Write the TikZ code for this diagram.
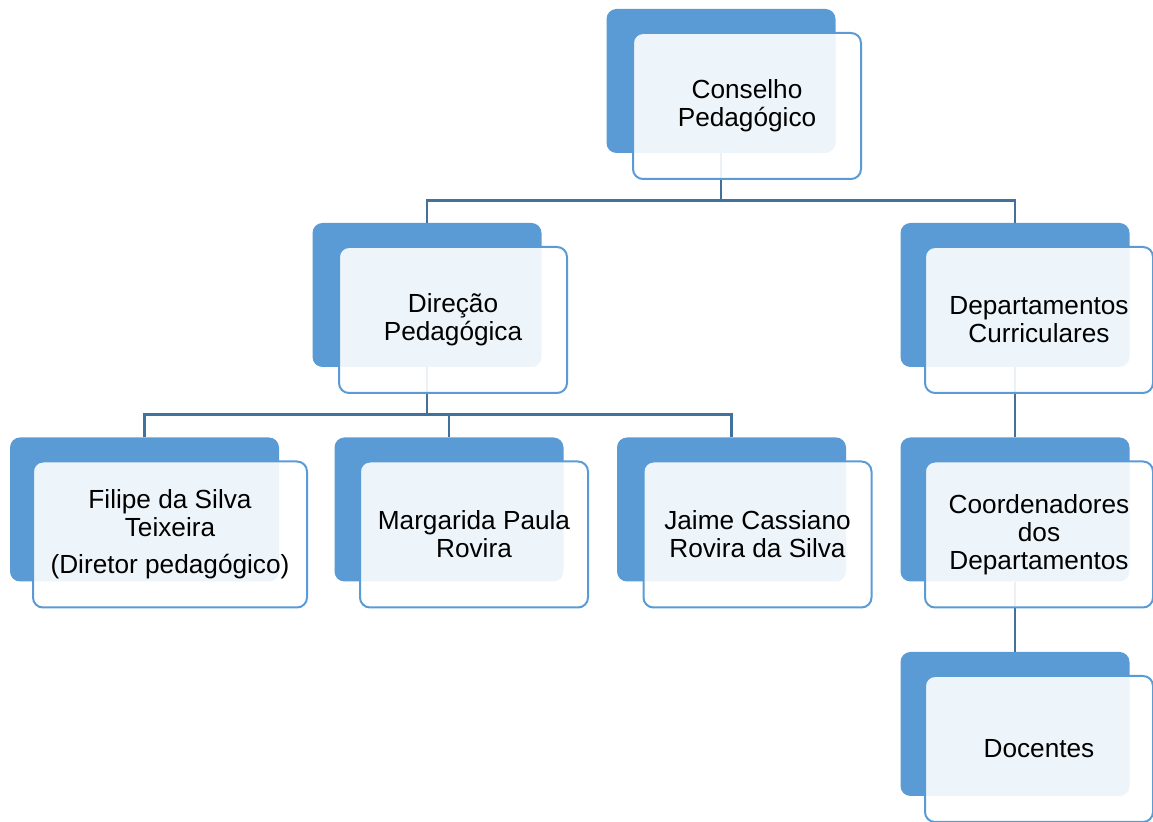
\documentclass[tikz,border=0pt]{standalone}
\usepackage{fontspec}
\setmainfont{Liberation Sans}
\usepackage{tikz}
\usetikzlibrary{positioning}
\definecolor{boxblue}{HTML}{5B9BD5}
\definecolor{linkblue}{HTML}{41719C}

\tikzset{
  back/.style={draw=none, rectangle, rounded corners=5pt, fill=boxblue,
    minimum width=114.5pt, minimum height=72pt, inner sep=0pt},
  front/.style={draw=boxblue, line width=1pt, rectangle, rounded corners=5pt,
    fill=white, fill opacity=0.9, text opacity=1, text=black,
    minimum width=114pt, minimum height=73pt, inner sep=0pt, align=center,
    font=\fontsize{13.1}{14}\selectfont},
  link/.style={draw=linkblue, line width=1.25pt}
}

\begin{document}
\begin{tikzpicture}[x=0.5pt, y=-0.5pt]
  \useasboundingbox (0,0) rectangle (1153,822);

  % Back boxes
  \node [back] (cons) at (721,81) {};
  \node [back] (dir) at (427,295) {};
  \node [back] (dep) at (1015,295) {};
  \node [back, minimum width=134.5pt] (fil) at (144.5,509.5) {};
  \node [back] (mar) at (449,509.5) {};
  \node [back] (jai) at (731.5,509.5) {};
  \node [back] (coo) at (1015,509.5) {};
  \node [back] (doc) at (1015,724) {};

  % Connectors
  \draw [link] (cons.south) -- ++(0,47) coordinate (c1);
  \draw [link] (dir.north) |- (c1) -| (dep.north);
  \draw [link] (dir.south) -- ++(0,47) coordinate (d1);
  \draw [link] (fil.north) |- (d1) -| (jai.north);
  \draw [link] (mar.north) -- (mar.north |- d1);
  \draw [link] (dep.south) -- (coo.north);
  \draw [link] (coo.south) -- (doc.north);

  % Front boxes with text
  \node [front] (cons-f) at ([shift={(26,25)}]cons.center) {Conselho\\Pedagógico};
  \node [front] (dir-f) at ([shift={(26,25)}]dir.center) {Direção\\Pedagógica};
  \node [front] (dep-f) at ([shift={(24,25)}]dep.center) {Departamentos\\Curriculares};
  \node [front, minimum width=137pt] (fil-f) at ([shift={(25.5,25)}]fil.center)
    {Filipe da Silva\\Teixeira\\[4.5pt](Diretor pedagógico)};
  \node [front] (mar-f) at ([shift={(25,25)}]mar.center) {Margarida Paula\\Rovira};
  \node [front] (jai-f) at ([shift={(26,25)}]jai.center) {Jaime Cassiano\\Rovira da Silva};
  \node [front] (coo-f) at ([shift={(24,25)}]coo.center) {Coordenadores\\dos\\Departamentos};
  \node [front] (doc-f) at ([shift={(24,25)}]doc.center) {Docentes};
\end{tikzpicture}
\end{document}
